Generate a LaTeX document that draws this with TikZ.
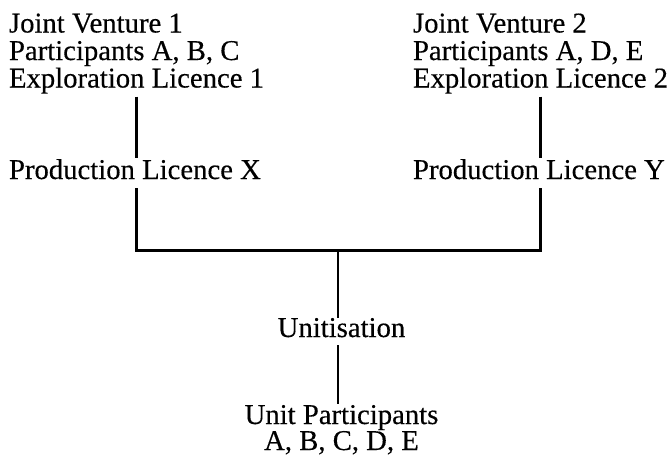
\documentclass[tikz,border=0pt]{standalone}
\usepackage{fontspec}
\setmainfont{Liberation Serif}
\newfontfamily\reffont[FakeBold=0.35]{Liberation Serif}
\begin{document}
\begin{tikzpicture}[x=1pt,y=-1pt,
  lbl/.style={inner sep=0pt, outer sep=0pt, font=\reffont\fontsize{28.7}{27.5}\selectfont},
  conn/.style={line width=2.8pt, line join=miter}]
\useasboundingbox (0,0) rectangle (667,456);
% left branch
\node[lbl,anchor=base west] (jv1a) at (9,32.5) {Joint Venture 1};
\node[lbl,anchor=base west] (jv1b) at (9,60) {Participants A, B, C};
\node[lbl,anchor=base west] (jv1c) at (9,87.5) {Exploration Licence 1};
\node[lbl,anchor=base west] (px) at (9,179) {Production Licence X};
% right branch
\node[lbl,anchor=base west] (jv2a) at (413,32.5) {Joint Venture 2};
\node[lbl,anchor=base west] (jv2b) at (413,60) {Participants A, D, E};
\node[lbl,anchor=base west] (jv2c) at (413,87.5) {Exploration Licence 2};
\node[lbl,anchor=base west] (py) at (413,179) {Production Licence Y};
% centre
\node[lbl,anchor=base] (u) at (341.5,337) {Unitisation};
\node[lbl,anchor=base] (up1) at (341.5,424) {Unit Participants};
\node[lbl,anchor=base] (up2) at (341.5,450) {A, B, C, D, E};
\coordinate (jn) at (338,250.5);
% connectors
\draw[conn, shorten <=3pt, shorten >=1.5pt] (jv1c.south) -- (jv1c.south |- px.north);
\draw[conn, shorten <=3pt, shorten >=1.5pt] (jv2c.south) -- (jv2c.south |- py.north);
\draw[conn, shorten <=9pt] (jv1c.south |- px.south) |- (jn);
\draw[conn, shorten >=9pt] (jn) -| (jv2c.south |- py.south);
\draw[conn] (jn) -- (jn |- u.north);
\draw[conn, shorten <=8pt, shorten >=1pt] (jn |- u.south) -- (jn |- up1.north);
\end{tikzpicture}
\end{document}
